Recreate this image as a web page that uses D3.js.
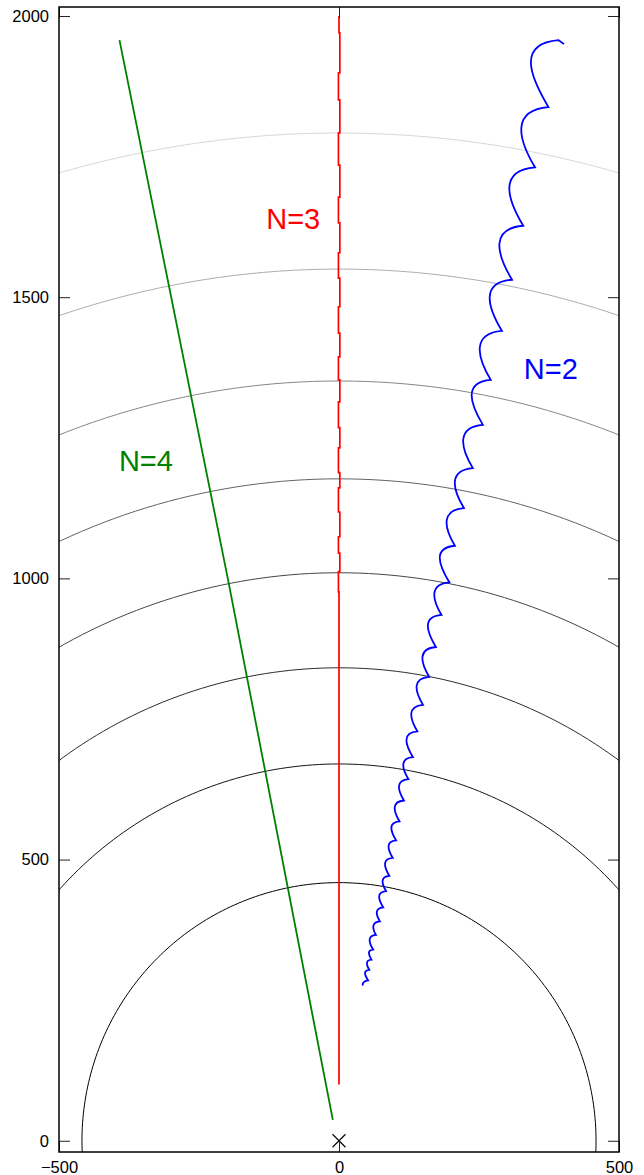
<!DOCTYPE html>
<html>
<head>
<meta charset="utf-8">
<script src="https://cdn.jsdelivr.net/npm/d3@7"></script>
<style>
  body { margin: 0; background: #fff; }
  text { font-family: "Liberation Sans", Arial, Helvetica, sans-serif; }
</style>
</head>
<body>
<div id="chart"></div>
<script>
// Data
var xTicks = [-500, 0, 500];
var yTicks = [0, 500, 1000, 1500, 2000];

// concentric wavefronts round the origin
var ringRadii = [459, 670, 841, 1010, 1177, 1351, 1550, 1792];

var seriesNames = ["N=2", "N=3", "N=4"];

// N=3 : almost straight, small jogs in the upper half
var redTrack = [[0, 100], [0, 976], [-1, 1012], [1.5, 1045], [-1, 1074], [1.5, 1118],
  [-1, 1161], [1.5, 1188], [-1, 1232], [1.5, 1268], [-1, 1314], [1.5, 1353],
  [-1, 1394], [1.5, 1436], [-1, 1483], [1.5, 1534], [-1, 1579], [1.5, 1632],
  [-1, 1678], [1.5, 1735], [-1, 1792], [1.5, 1851], [-1, 1899], [1.5, 1970], [0, 2000]];

// N=2 : cusps of the scalloped path, bottom to top
var blueCusps = [[43, 276], [52, 285], [54, 304], [58, 322], [61, 340], [66, 366],
  [73, 390], [79, 415], [84, 444], [90, 471], [96, 503], [102, 534], [108, 568],
  [116, 605], [124, 643], [132, 682], [140, 728], [150, 775], [161, 825], [173, 878],
  [183, 935], [197, 993], [207, 1058], [223, 1125], [239, 1196], [257, 1273],
  [271, 1353], [291, 1440], [309, 1531], [329, 1627], [350, 1731], [374, 1838],
  [392, 1957]];
var blueTail = [402, 1950];

// N=4 : straight drift to the upper left
var greenTrack = [[-11, 37], [-198, 997], [-392, 1957]];

var W = 644, H = 1175;
var plotLeft = 59, plotRight = 619, plotTop = 7, plotBottom = 1152;

var svg = d3.select("#chart").append("svg")
    .attr("width", W)
    .attr("height", H);

var x = d3.scaleLinear().domain([-500, 500]).range([plotLeft, plotRight]);
var y = d3.scaleLinear().domain([-20, 2016]).range([plotBottom, plotTop]);

svg.append("clipPath").attr("id", "plotclip")
  .append("rect")
    .attr("x", plotLeft).attr("y", plotTop)
    .attr("width", plotRight - plotLeft).attr("height", plotBottom - plotTop);

var plot = svg.append("g").attr("clip-path", "url(#plotclip)");

// rings
var grays = ["#000", "#141414", "#2c2c2c", "#474747", "#636363", "#878787", "#adadad", "#d8d8d8"];
var angles = d3.range(0, 361, 1);
var ring = d3.line()
    .x(function(a) { return a[0]; })
    .y(function(a) { return a[1]; });

ringRadii.forEach(function(r, i) {
  var pts = angles.map(function(deg) {
    var t = deg * Math.PI / 180;
    return [x(r * Math.cos(t)), y(r * Math.sin(t))];
  });
  plot.append("path")
    .attr("d", ring(pts))
    .attr("fill", "none")
    .attr("stroke", grays[i])
    .attr("stroke-width", 1);
});

// N=4
plot.append("path")
  .datum(greenTrack)
  .attr("fill", "none")
  .attr("stroke", "#008000")
  .attr("stroke-width", 1.8)
  .attr("d", d3.line()
      .x(function(d) { return x(d[0]); })
      .y(function(d) { return y(d[1]); }));

// N=3 (jogs drawn as steps)
var redLine = d3.line()
    .x(function(d) { return x(d[0]); })
    .y(function(d) { return y(d[1]); })
    .curve(d3.curveStepAfter);

plot.append("path")
  .datum(redTrack)
  .attr("fill", "none")
  .attr("stroke", "#ff0000")
  .attr("stroke-width", 1.7)
  .attr("d", redLine);

// N=2 : each scallop bulges to the left between two cusps
function scallops(pts, tail) {
  var p = d3.path();
  var px = pts.map(function(d) { return [x(d[0]), y(d[1])]; });
  p.moveTo(px[0][0], px[0][1]);
  for (var i = 1; i < px.length; i++) {
    var a = px[i - 1], b = px[i];
    var h = a[1] - b[1];
    p.bezierCurveTo(a[0] - 0.3 * h, a[1] - 0.5 * h, b[0] - 0.6 * h, b[1] + 0.05 * h, b[0], b[1]);
  }
  p.lineTo(x(tail[0]), y(tail[1]));
  return p.toString();
}

plot.append("path")
  .attr("d", scallops(blueCusps, blueTail))
  .attr("fill", "none")
  .attr("stroke", "#0000ff")
  .attr("stroke-width", 1.8)
  .attr("stroke-linejoin", "miter")
  .attr("stroke-miterlimit", 10);

// marker at the origin
var ox = x(0), oy = y(0), m = 6.5;
svg.append("path")
  .attr("d", "M" + (ox - m) + "," + (oy - m) + "L" + (ox + m) + "," + (oy + m) +
             "M" + (ox - m) + "," + (oy + m) + "L" + (ox + m) + "," + (oy - m))
  .attr("stroke", "#000")
  .attr("stroke-width", 1.1);

// axes, ticks pointing inward
var fontSize = 16.5;

var gx = svg.append("g")
  .attr("transform", "translate(0," + plotBottom + ")")
  .call(d3.axisBottom(x).tickValues(xTicks).tickSizeInner(-11).tickSizeOuter(0)
        .tickPadding(9).tickFormat(d3.format("d")));
var gxTop = svg.append("g")
  .attr("transform", "translate(0," + plotTop + ")")
  .call(d3.axisTop(x).tickValues(xTicks).tickSizeInner(-11).tickSizeOuter(0)
        .tickFormat(""));
var gy = svg.append("g")
  .attr("transform", "translate(" + plotLeft + ",0)")
  .call(d3.axisLeft(y).tickValues(yTicks).tickSizeInner(-11).tickSizeOuter(0)
        .tickPadding(10).tickFormat(d3.format("d")));
var gyRight = svg.append("g")
  .attr("transform", "translate(" + plotRight + ",0)")
  .call(d3.axisRight(y).tickValues(yTicks).tickSizeInner(-11).tickSizeOuter(0)
        .tickFormat(""));

[gx, gxTop, gy, gyRight].forEach(function(g) {
  g.select(".domain").remove();
  g.selectAll(".tick line").attr("stroke", "#222").attr("stroke-width", 1);
  g.selectAll("text")
    .attr("font-family", "'Liberation Sans', Arial, Helvetica, sans-serif")
    .attr("font-size", fontSize)
    .attr("fill", "#000");
});
gx.selectAll(".tick text").text(function(d) { return d < 0 ? "\u2212" + Math.abs(d) : d; });

// frame
svg.append("rect")
  .attr("x", plotLeft).attr("y", plotTop)
  .attr("width", plotRight - plotLeft).attr("height", plotBottom - plotTop)
  .attr("fill", "none")
  .attr("stroke", "#000")
  .attr("stroke-width", 1.5);

// series labels
var labelSpots = [
  { name: seriesNames[0], px: 330, py: 1355, color: "#0000ff" },
  { name: seriesNames[1], px: -130, py: 1621, color: "#ff0000" },
  { name: seriesNames[2], px: -393, py: 1191, color: "#008000" }
];
svg.selectAll(".series-label")
  .data(labelSpots)
  .enter().append("text")
  .attr("class", "series-label")
  .attr("x", function(d) { return x(d.px); })
  .attr("y", function(d) { return y(d.py); })
  .attr("fill", function(d) { return d.color; })
  .attr("font-size", 29)
  .text(function(d) { return d.name; });
</script>
</body>
</html>
